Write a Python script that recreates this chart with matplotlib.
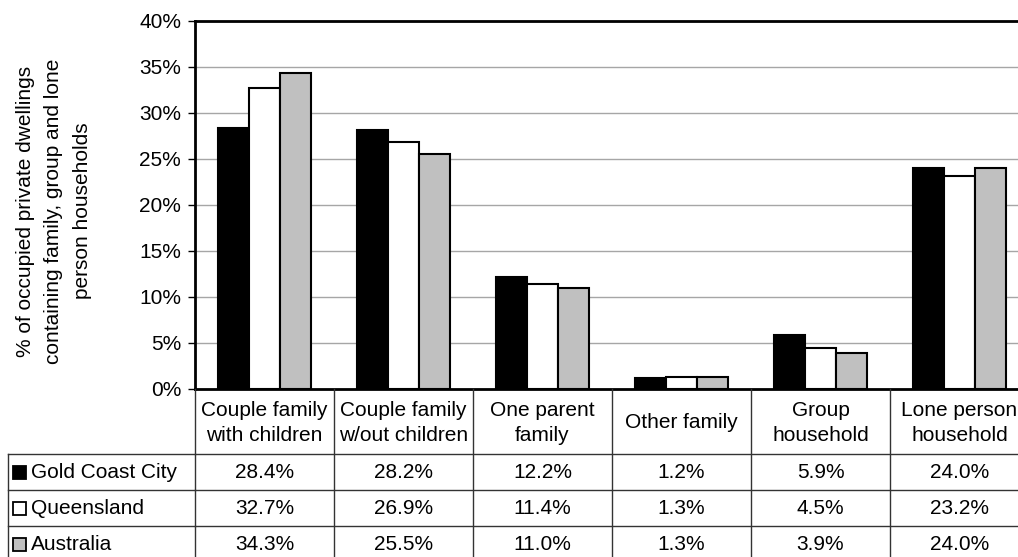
"""Household composition bar chart with an attached data table."""

import matplotlib

matplotlib.use("Agg")
import matplotlib.pyplot as plt
from matplotlib.patches import Rectangle
from matplotlib.transforms import blended_transform_factory
from matplotlib.ticker import MultipleLocator, PercentFormatter
import numpy as np

plt.rcParams.update(
    {
        "font.family": "sans-serif",
        "font.sans-serif": ["Liberation Sans", "Arial", "DejaVu Sans"],
        "font.size": 15,
    }
)

CATEGORIES = [
    "Couple family\nwith children",
    "Couple family\nw/out children",
    "One parent\nfamily",
    "Other family",
    "Group\nhousehold",
    "Lone person\nhousehold",
]
SERIES = ["Gold Coast City", "Queensland", "Australia"]
GOLD_COAST = [28.4, 28.2, 12.2, 1.2, 5.9, 24.0]
QUEENSLAND = [32.7, 26.9, 11.4, 1.3, 4.5, 23.2]
AUSTRALIA = [34.3, 25.5, 11.0, 1.3, 3.9, 24.0]
VALUES = [GOLD_COAST, QUEENSLAND, AUSTRALIA]
FILLS = ["#000000", "#ffffff", "#c0c0c0"]

W, H = 1018, 557
DPI = 100
FS = 15


def fx(px):
    return px / W


def fy(py):
    return 1 - py / H


fig = plt.figure(figsize=(W / DPI, H / DPI), dpi=DPI)

# plot area: runs off the right edge, like the source sheet
ax_left, ax_top, ax_bottom = 195, 21, 389
cat_w = 139
ax = fig.add_axes([fx(ax_left), fy(ax_bottom), len(CATEGORIES) * cat_w / W, (ax_bottom - ax_top) / H])

x = np.arange(len(CATEGORIES))
bw = 0.223
for i, (vals, fc) in enumerate(zip(VALUES, FILLS)):
    ax.bar(x + (i - 1) * bw, vals, width=bw, color=fc, edgecolor="black", linewidth=1.5, zorder=3)

ax.set_xlim(-0.5, len(CATEGORIES) - 0.5)
ax.set_ylim(0, 40)
ax.yaxis.set_major_locator(MultipleLocator(5))
ax.yaxis.set_major_formatter(PercentFormatter(decimals=0))
ax.set_xticks([])
ax.tick_params(axis="y", direction="out", length=5, width=1, color="black", labelsize=FS, pad=5)
ax.grid(axis="y", color="#a6a6a6", linewidth=1, zorder=0)
for side in ("left", "top", "bottom"):
    ax.spines[side].set_linewidth(2)
ax.spines["right"].set_visible(False)

fig.text(
    fx(54),
    fy(211),
    "% of occupied private dwellings\ncontaining family, group and lone\nperson households",
    rotation=90,
    ha="center",
    va="center",
    fontsize=FS,
    linespacing=1.6,
)

# data table below the axes
trans = blended_transform_factory(ax.transData, fig.transFigure)
line_kw = dict(color="#333333", linewidth=1, clip_on=False)

row_lines = [454, 490, 526]
row_centres = [472, 508, 544]
header_centre = 423

for b in np.arange(-0.5, len(CATEGORIES), 1.0):
    fig.add_artist(plt.Line2D([b, b], [fy(ax_bottom), 0], transform=trans, **line_kw))

x_right = len(CATEGORIES) - 0.5
for ry in row_lines:
    fig.add_artist(plt.Line2D([fx(8), fx(ax_left)], [fy(ry), fy(ry)], transform=fig.transFigure, **line_kw))
    fig.add_artist(plt.Line2D([-0.5, x_right], [fy(ry), fy(ry)], transform=trans, **line_kw))
fig.add_artist(plt.Line2D([fx(8), fx(8)], [fy(row_lines[0]), 0], transform=fig.transFigure, **line_kw))

for xi, cat in zip(x, CATEGORIES):
    fig.text(xi, fy(header_centre), cat, transform=trans, ha="center", va="center",
             fontsize=FS, linespacing=1.4)

for r, (name, vals, fc) in enumerate(zip(SERIES, VALUES, FILLS)):
    yc = row_centres[r]
    fig.add_artist(
        Rectangle((fx(13), fy(yc + 7)), fx(13), 13 / H, transform=fig.transFigure,
                  facecolor=fc, edgecolor="black", linewidth=1.3)
    )
    fig.text(fx(31), fy(yc), name, ha="left", va="center", fontsize=FS)
    for xi, v in zip(x, vals):
        fig.text(xi, fy(yc), f"{v:.1f}%", transform=trans, ha="center", va="center", fontsize=FS)

fig.savefig("out.png", dpi=DPI, facecolor="white")
